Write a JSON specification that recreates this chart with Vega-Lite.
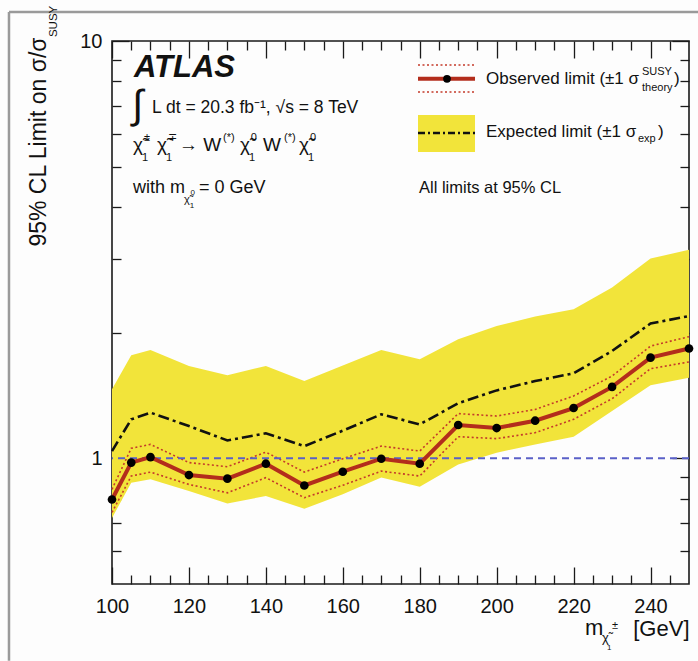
{
  "$schema": "https://vega.github.io/schema/vega-lite/v6.json",
  "width": 577,
  "height": 543,
  "autosize": {"type": "none"},
  "padding": {"left": 112, "top": 41, "right": 9, "bottom": 77},
  "background": "#fdfdfd",
  "config": {
    "view": {"stroke": "#1a1a1a", "strokeWidth": 1.6},
    "font": "Liberation Sans",
    "text": {"font": "Liberation Sans", "color": "#111111"},
    "axis": {
      "grid": false, "domain": false,
      "tickColor": "#1a1a1a", "tickWidth": 1.3,
      "labelFont": "Liberation Sans", "labelColor": "#111111", "labelFontSize": 20,
      "titleFont": "Liberation Sans", "titleColor": "#111111", "titleFontWeight": "normal",
      "labelFlush": false, "labelOverlap": false, "labelBound": false
    }
  },
  "data": {
    "values": [
      {"m": 100, "obs": 0.797, "th_up": 0.843, "th_dn": 0.742, "exp": 1.041, "exp_up": 1.464, "exp_dn": 0.72},
      {"m": 105, "obs": 0.977, "th_up": 1.057, "th_dn": 0.907, "exp": 1.24, "exp_up": 1.766, "exp_dn": 0.874},
      {"m": 110, "obs": 1.007, "th_up": 1.08, "th_dn": 0.927, "exp": 1.287, "exp_up": 1.819, "exp_dn": 0.891},
      {"m": 120, "obs": 0.912, "th_up": 0.977, "th_dn": 0.866, "exp": 1.195, "exp_up": 1.665, "exp_dn": 0.835},
      {"m": 130, "obs": 0.894, "th_up": 0.955, "th_dn": 0.827, "exp": 1.104, "exp_up": 1.581, "exp_dn": 0.78},
      {"m": 140, "obs": 0.971, "th_up": 1.035, "th_dn": 0.899, "exp": 1.148, "exp_up": 1.665, "exp_dn": 0.812},
      {"m": 150, "obs": 0.861, "th_up": 0.927, "th_dn": 0.805, "exp": 1.07, "exp_up": 1.532, "exp_dn": 0.757},
      {"m": 160, "obs": 0.929, "th_up": 0.998, "th_dn": 0.862, "exp": 1.165, "exp_up": 1.67, "exp_dn": 0.82},
      {"m": 170, "obs": 0.998, "th_up": 1.07, "th_dn": 0.932, "exp": 1.275, "exp_up": 1.819, "exp_dn": 0.9},
      {"m": 180, "obs": 0.971, "th_up": 1.041, "th_dn": 0.907, "exp": 1.206, "exp_up": 1.727, "exp_dn": 0.855},
      {"m": 190, "obs": 1.202, "th_up": 1.28, "th_dn": 1.127, "exp": 1.355, "exp_up": 1.928, "exp_dn": 0.967},
      {"m": 200, "obs": 1.182, "th_up": 1.263, "th_dn": 1.115, "exp": 1.455, "exp_up": 2.076, "exp_dn": 1.032},
      {"m": 210, "obs": 1.231, "th_up": 1.31, "th_dn": 1.152, "exp": 1.532, "exp_up": 2.187, "exp_dn": 1.08},
      {"m": 220, "obs": 1.32, "th_up": 1.411, "th_dn": 1.24, "exp": 1.599, "exp_up": 2.277, "exp_dn": 1.127},
      {"m": 230, "obs": 1.483, "th_up": 1.575, "th_dn": 1.39, "exp": 1.808, "exp_up": 2.567, "exp_dn": 1.299},
      {"m": 240, "obs": 1.743, "th_up": 1.858, "th_dn": 1.64, "exp": 2.104, "exp_up": 3.012, "exp_dn": 1.497},
      {"m": 250, "obs": 1.833, "th_up": 1.957, "th_dn": 1.702, "exp": 2.193, "exp_up": 3.159, "exp_dn": 1.561}
    ]
  },
  "layer": [
    {
      "layer": [
        {
          "mark": {"type": "area", "color": "#f2e43a", "opacity": 1},
          "encoding": {
            "x": {
              "field": "m", "type": "quantitative",
              "scale": {"type": "linear", "domain": [100, 250], "nice": false, "zero": false},
              "axis": {
                "orient": "bottom", "values": [100, 120, 140, 160, 180, 200, 220, 240], "format": "d",
                "tickSize": -17, "labelPadding": 29,
                "title": "[GeV]", "titleFontSize": 22, "titleAnchor": "end", "titleAlign": "right",
                "titleBaseline": "alphabetic", "titleX": 577, "titleY": 51
              }
            },
            "y": {
              "field": "exp_dn", "type": "quantitative",
              "scale": {"type": "log", "domain": [0.5, 10], "nice": false},
              "axis": {
                "orient": "left", "values": [1, 10], "format": "~g",
                "tickSize": -17, "labelPadding": 27,
                "title": "95% CL Limit on σ/σ", "titleFontSize": 23, "titleAngle": 270,
                "titleAlign": "right", "titleBaseline": "alphabetic", "titleX": -67, "titleY": -4
              }
            },
            "y2": {"field": "exp_up"}
          }
        },
        {
          "mark": {"type": "line", "color": "#111111", "strokeWidth": 2.6, "strokeDash": [11, 4, 3, 4]},
          "encoding": {"x": {"field": "m", "type": "quantitative"}, "y": {"field": "exp", "type": "quantitative"}}
        },
        {
          "mark": {"type": "line", "color": "#c43a2a", "strokeWidth": 1.6, "strokeDash": [2, 2.5]},
          "encoding": {"x": {"field": "m", "type": "quantitative"}, "y": {"field": "th_up", "type": "quantitative"}}
        },
        {
          "mark": {"type": "line", "color": "#c43a2a", "strokeWidth": 1.6, "strokeDash": [2, 2.5]},
          "encoding": {"x": {"field": "m", "type": "quantitative"}, "y": {"field": "th_dn", "type": "quantitative"}}
        },
        {
          "data": {"values": [{}]},
          "mark": {"type": "rule", "color": "#5a60c8", "strokeWidth": 2, "strokeDash": [7, 5]},
          "encoding": {"y": {"datum": 1}}
        },
        {
          "mark": {"type": "line", "color": "#b32d1c", "strokeWidth": 4},
          "encoding": {"x": {"field": "m", "type": "quantitative"}, "y": {"field": "obs", "type": "quantitative"}}
        },
        {
          "mark": {"type": "point", "filled": true, "color": "#000000", "size": 75, "opacity": 1},
          "encoding": {"x": {"field": "m", "type": "quantitative"}, "y": {"field": "obs", "type": "quantitative"}}
        },
        {
          "data": {"values": [{}]},
          "layer": [
            {"mark": {"type": "rule", "color": "#9a9a9a", "strokeWidth": 2.5},
             "encoding": {"x": {"datum": 73.22}, "y": {"datum": 11.73}, "y2": {"datum": 0.3272}}},
            {"mark": {"type": "rule", "color": "#9a9a9a", "strokeWidth": 2.5},
             "encoding": {"x": {"datum": 73.22}, "x2": {"datum": 252.34}, "y": {"datum": 11.73}}},

            {"mark": {"type": "text", "align": "left", "baseline": "alphabetic", "fontSize": 11.5, "angle": 270},
             "encoding": {"x": {"datum": 85.7}, "y": {"datum": 10.22}, "text": {"value": "SUSY"}}},

            {"mark": {"type": "text", "align": "left", "baseline": "alphabetic", "fontSize": 22},
             "encoding": {"x": {"datum": 222.96}, "y": {"datum": 0.3775}, "text": {"value": "m"}}},
            {"mark": {"type": "text", "align": "left", "baseline": "alphabetic", "fontSize": 13},
             "encoding": {"x": {"datum": 227.38}, "y": {"datum": 0.3632}, "text": {"value": "χ̃"}}},
            {"mark": {"type": "text", "align": "left", "baseline": "alphabetic", "fontSize": 11},
             "encoding": {"x": {"datum": 229.98}, "y": {"datum": 0.3902}, "text": {"value": "±"}}},
            {"mark": {"type": "text", "align": "left", "baseline": "alphabetic", "fontSize": 8},
             "encoding": {"x": {"datum": 228.68}, "y": {"datum": 0.3475}, "text": {"value": "1"}}},

            {"mark": {"type": "text", "align": "left", "baseline": "alphabetic", "fontSize": 31, "fontWeight": "bold", "fontStyle": "italic"},
             "encoding": {"x": {"datum": 105.72}, "y": {"datum": 8.199}, "text": {"value": "ATLAS"}}},
            {"mark": {"type": "text", "align": "left", "baseline": "alphabetic", "fontSize": 40},
             "encoding": {"x": {"datum": 105.2}, "y": {"datum": 6.53}, "text": {"value": "∫"}}},
            {"mark": {"type": "text", "align": "left", "baseline": "alphabetic", "fontSize": 17.5},
             "encoding": {"x": {"datum": 110.4}, "y": {"datum": 6.722}, "text": {"value": "L dt = 20.3 fb⁻¹, √s = 8 TeV"}}},

            {"mark": {"type": "text", "align": "left", "baseline": "alphabetic", "fontSize": 19},
             "encoding": {"x": {"datum": 105.46}, "y": {"datum": 5.452}, "text": {"value": "χ̃"}}},
            {"mark": {"type": "text", "align": "left", "baseline": "alphabetic", "fontSize": 11},
             "encoding": {"x": {"datum": 108.3}, "y": {"datum": 5.761}, "text": {"value": "±"}}},
            {"mark": {"type": "text", "align": "left", "baseline": "alphabetic", "fontSize": 11},
             "encoding": {"x": {"datum": 107.8}, "y": {"datum": 5.16}, "text": {"value": "1"}}},
            {"mark": {"type": "text", "align": "left", "baseline": "alphabetic", "fontSize": 19},
             "encoding": {"x": {"datum": 111.7}, "y": {"datum": 5.452}, "text": {"value": "χ̃"}}},
            {"mark": {"type": "text", "align": "left", "baseline": "alphabetic", "fontSize": 11},
             "encoding": {"x": {"datum": 114.5}, "y": {"datum": 5.761}, "text": {"value": "∓"}}},
            {"mark": {"type": "text", "align": "left", "baseline": "alphabetic", "fontSize": 11},
             "encoding": {"x": {"datum": 114.04}, "y": {"datum": 5.16}, "text": {"value": "1"}}},
            {"mark": {"type": "text", "align": "left", "baseline": "alphabetic", "fontSize": 19},
             "encoding": {"x": {"datum": 117.42}, "y": {"datum": 5.452}, "text": {"value": "→ W"}}},
            {"mark": {"type": "text", "align": "left", "baseline": "alphabetic", "fontSize": 11},
             "encoding": {"x": {"datum": 128.86}, "y": {"datum": 5.761}, "text": {"value": "(*)"}}},
            {"mark": {"type": "text", "align": "left", "baseline": "alphabetic", "fontSize": 19},
             "encoding": {"x": {"datum": 133.28}, "y": {"datum": 5.452}, "text": {"value": "χ̃"}}},
            {"mark": {"type": "text", "align": "left", "baseline": "alphabetic", "fontSize": 11},
             "encoding": {"x": {"datum": 136.1}, "y": {"datum": 5.761}, "text": {"value": "0"}}},
            {"mark": {"type": "text", "align": "left", "baseline": "alphabetic", "fontSize": 11},
             "encoding": {"x": {"datum": 135.62}, "y": {"datum": 5.16}, "text": {"value": "1"}}},
            {"mark": {"type": "text", "align": "left", "baseline": "alphabetic", "fontSize": 19},
             "encoding": {"x": {"datum": 139.25}, "y": {"datum": 5.452}, "text": {"value": "W"}}},
            {"mark": {"type": "text", "align": "left", "baseline": "alphabetic", "fontSize": 11},
             "encoding": {"x": {"datum": 144.71}, "y": {"datum": 5.761}, "text": {"value": "(*)"}}},
            {"mark": {"type": "text", "align": "left", "baseline": "alphabetic", "fontSize": 19},
             "encoding": {"x": {"datum": 148.61}, "y": {"datum": 5.452}, "text": {"value": "χ̃"}}},
            {"mark": {"type": "text", "align": "left", "baseline": "alphabetic", "fontSize": 11},
             "encoding": {"x": {"datum": 151.45}, "y": {"datum": 5.761}, "text": {"value": "0"}}},
            {"mark": {"type": "text", "align": "left", "baseline": "alphabetic", "fontSize": 11},
             "encoding": {"x": {"datum": 150.95}, "y": {"datum": 5.16}, "text": {"value": "1"}}},

            {"mark": {"type": "text", "align": "left", "baseline": "alphabetic", "fontSize": 18},
             "encoding": {"x": {"datum": 105.46}, "y": {"datum": 4.324}, "text": {"value": "with m"}}},
            {"mark": {"type": "text", "align": "left", "baseline": "alphabetic", "fontSize": 11},
             "encoding": {"x": {"datum": 118.72}, "y": {"datum": 4.092}, "text": {"value": "χ̃"}}},
            {"mark": {"type": "text", "align": "left", "baseline": "alphabetic", "fontSize": 8},
             "encoding": {"x": {"datum": 120.4}, "y": {"datum": 4.277}, "text": {"value": "0"}}},
            {"mark": {"type": "text", "align": "left", "baseline": "alphabetic", "fontSize": 8},
             "encoding": {"x": {"datum": 120.2}, "y": {"datum": 3.981}, "text": {"value": "1"}}},
            {"mark": {"type": "text", "align": "left", "baseline": "alphabetic", "fontSize": 18},
             "encoding": {"x": {"datum": 122.6}, "y": {"datum": 4.324}, "text": {"value": "= 0 GeV"}}},

            {"mark": {"type": "rule", "color": "#c43a2a", "strokeWidth": 1.6, "strokeDash": [2, 2.5]},
             "encoding": {"x": {"datum": 179.55}, "x2": {"datum": 194.37}, "y": {"datum": 8.759}}},
            {"mark": {"type": "rule", "color": "#c43a2a", "strokeWidth": 1.6, "strokeDash": [2, 2.5]},
             "encoding": {"x": {"datum": 179.55}, "x2": {"datum": 194.37}, "y": {"datum": 7.548}}},
            {"mark": {"type": "rule", "color": "#b32d1c", "strokeWidth": 4},
             "encoding": {"x": {"datum": 179.55}, "x2": {"datum": 194.37}, "y": {"datum": 8.118}}},
            {"mark": {"type": "point", "filled": true, "color": "#000000", "size": 60, "opacity": 1},
             "encoding": {"x": {"datum": 187.09}, "y": {"datum": 8.118}}},
            {"mark": {"type": "rect", "color": "#f2e43a"},
             "encoding": {"x": {"datum": 179.55}, "x2": {"datum": 194.37}, "y": {"datum": 6.648}, "y2": {"datum": 5.42}}},
            {"mark": {"type": "rule", "color": "#111111", "strokeWidth": 2.4, "strokeDash": [7, 3, 2, 3]},
             "encoding": {"x": {"datum": 179.55}, "x2": {"datum": 194.37}, "y": {"datum": 6.018}}},

            {"mark": {"type": "text", "align": "left", "baseline": "alphabetic", "fontSize": 17},
             "encoding": {"x": {"datum": 197.23}, "y": {"datum": 7.888}, "text": {"value": "Observed limit (±1 σ"}}},
            {"mark": {"type": "text", "align": "left", "baseline": "alphabetic", "fontSize": 11},
             "encoding": {"x": {"datum": 237.78}, "y": {"datum": 8.287}, "text": {"value": "SUSY"}}},
            {"mark": {"type": "text", "align": "left", "baseline": "alphabetic", "fontSize": 11},
             "encoding": {"x": {"datum": 237.78}, "y": {"datum": 7.59}, "text": {"value": "theory"}}},
            {"mark": {"type": "text", "align": "left", "baseline": "alphabetic", "fontSize": 17},
             "encoding": {"x": {"datum": 246.1}, "y": {"datum": 7.888}, "text": {"value": ")"}}},
            {"mark": {"type": "text", "align": "left", "baseline": "alphabetic", "fontSize": 17},
             "encoding": {"x": {"datum": 197.23}, "y": {"datum": 5.886}, "text": {"value": "Expected limit (±1 σ"}}},
            {"mark": {"type": "text", "align": "left", "baseline": "alphabetic", "fontSize": 11},
             "encoding": {"x": {"datum": 236.74}, "y": {"datum": 5.728}, "text": {"value": "exp"}}},
            {"mark": {"type": "text", "align": "left", "baseline": "alphabetic", "fontSize": 17},
             "encoding": {"x": {"datum": 241.94}, "y": {"datum": 5.886}, "text": {"value": ")"}}},
            {"mark": {"type": "text", "align": "left", "baseline": "alphabetic", "fontSize": 16.5},
             "encoding": {"x": {"datum": 179.81}, "y": {"datum": 4.324}, "text": {"value": "All limits at 95% CL"}}}
          ]
        }
      ]
    },
    {
      "mark": {"type": "point", "opacity": 0},
      "encoding": {
        "x": {"field": "m", "type": "quantitative",
              "axis": {"orient": "bottom", "values": [105, 110, 115, 125, 130, 135, 145, 150, 155, 165, 170, 175, 185, 190, 195, 205, 210, 215, 225, 230, 235, 245],
                       "tickSize": -9, "labels": false, "title": null}},
        "y": {"field": "obs", "type": "quantitative",
              "axis": {"orient": "left", "values": [0.6, 0.7, 0.8, 0.9, 2, 3, 4, 5, 6, 7, 8, 9],
                       "tickSize": -9, "labels": false, "title": null}}
      }
    },
    {
      "mark": {"type": "point", "opacity": 0},
      "encoding": {
        "x": {"field": "m", "type": "quantitative",
              "axis": {"orient": "top", "values": [100, 120, 140, 160, 180, 200, 220, 240],
                       "tickSize": -17, "labels": false, "title": null}},
        "y": {"field": "obs", "type": "quantitative",
              "axis": {"orient": "right", "values": [1, 10],
                       "tickSize": -17, "labels": false, "title": null}}
      }
    },
    {
      "mark": {"type": "point", "opacity": 0},
      "encoding": {
        "x": {"field": "m", "type": "quantitative",
              "axis": {"orient": "top", "values": [105, 110, 115, 125, 130, 135, 145, 150, 155, 165, 170, 175, 185, 190, 195, 205, 210, 215, 225, 230, 235, 245],
                       "tickSize": -9, "labels": false, "title": null}},
        "y": {"field": "obs", "type": "quantitative",
              "axis": {"orient": "right", "values": [0.6, 0.7, 0.8, 0.9, 2, 3, 4, 5, 6, 7, 8, 9],
                       "tickSize": -9, "labels": false, "title": null}}
      }
    }
  ],
  "resolve": {"axis": {"x": "independent", "y": "independent"}}
}
